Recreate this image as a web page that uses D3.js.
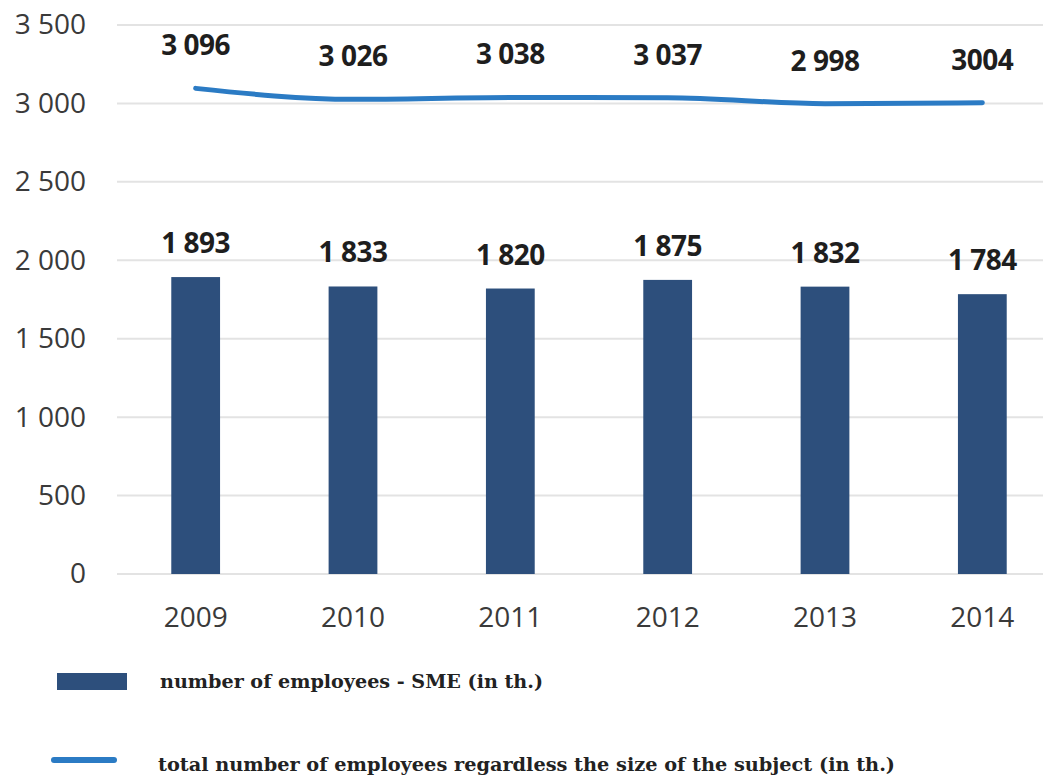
<!DOCTYPE html>
<html><head><meta charset="utf-8">
<script src="https://cdn.jsdelivr.net/npm/d3@7"></script>
<style>body{margin:0;background:#fff}svg{display:block}</style>
</head><body>
<script>
const years = ["2009","2010","2011","2012","2013","2014"];
const smeValues = [1893,1833,1820,1875,1832,1784];
const smeLabels = ["1 893","1 833","1 820","1 875","1 832","1 784"];
const totalValues = [3096,3026,3038,3037,2998,3004];
const totalLabels = ["3 096","3 026","3 038","3 037","2 998","3004"];
const yTicks = [0,500,1000,1500,2000,2500,3000,3500];
const yTickLabels = ["0","500","1 000","1 500","2 000","2 500","3 000","3 500"];
const legendLabels = ["number of employees - SME (in th.)","total number of employees regardless the size of the subject (in th.)"];

const W=1043,H=776;
const svg=d3.select("body").append("svg").attr("width",W).attr("height",H);
const x=d3.scaleBand().domain(years).range([117,1061]).paddingInner(0.69).paddingOuter(0.345);
const y=d3.scaleLinear().domain([0,3500]).range([574,25]);
const barColor="#2d4f7c", lineColor="#2b7bc4";

// grid
svg.append("g").selectAll("line").data(yTicks).join("line")
 .attr("x1",117).attr("x2",W).attr("y1",d=>y(d)).attr("y2",d=>y(d))
 .attr("stroke","#e3e3e3").attr("stroke-width",2);

// y axis
const ya=svg.append("g").attr("transform","translate(86,0)")
 .call(d3.axisLeft(y).tickValues(yTicks).tickFormat((d,i)=>yTickLabels[i]).tickSize(0).tickPadding(0));
ya.select(".domain").remove();
ya.selectAll("text").attr("font-family","Open Sans").attr("font-size",28).attr("fill","#3a3a3a");

// x axis
const xa=svg.append("g").attr("transform","translate(0,574)")
 .call(d3.axisBottom(x).tickSize(0).tickPadding(0));
xa.select(".domain").remove();
xa.selectAll("text").attr("dy",null).attr("y",53).attr("font-family","Open Sans").attr("font-size",28).attr("fill","#3a3a3a");

// bars
svg.append("g").selectAll("rect").data(years).join("rect")
 .attr("x",d=>x(d)).attr("width",x.bandwidth())
 .attr("y",(d,i)=>y(smeValues[i])).attr("height",(d,i)=>y(0)-y(smeValues[i]))
 .attr("fill",barColor);

// line
const cx=d=>x(d)+x.bandwidth()/2;
svg.append("path").datum(years)
 .attr("d",d3.line().x(d=>cx(d)).y((d,i)=>y(totalValues[i])).curve(d3.curveMonotoneX))
 .attr("fill","none").attr("stroke",lineColor).attr("stroke-width",5).attr("stroke-linecap","round");

// labels
svg.append("g").selectAll("text").data(years).join("text")
 .attr("x",d=>cx(d)).attr("y",(d,i)=>y(smeValues[i])-24)
 .attr("text-anchor","middle").attr("font-family","Open Sans").attr("font-weight","bold")
 .attr("font-size",28).attr("letter-spacing",-0.5).attr("fill","#1e1e1e").text((d,i)=>smeLabels[i]);
svg.append("g").selectAll("text").data(years).join("text")
 .attr("x",d=>cx(d)).attr("y",(d,i)=>y(totalValues[i])-33)
 .attr("text-anchor","middle").attr("font-family","Open Sans").attr("font-weight","bold")
 .attr("font-size",28).attr("letter-spacing",-0.5).attr("fill","#1e1e1e").text((d,i)=>totalLabels[i]);

// legend
svg.append("rect").attr("x",57).attr("y",673).attr("width",70).attr("height",17).attr("fill",barColor);
svg.append("line").attr("x1",54).attr("x2",114).attr("y1",760).attr("y2",760)
 .attr("stroke",lineColor).attr("stroke-width",6).attr("stroke-linecap","round");
svg.append("g").selectAll("text").data(legendLabels).join("text")
 .attr("x",(d,i)=>i===0?160:158).attr("y",(d,i)=>i===0?688:771)
 .attr("font-family","DejaVu Serif").attr("font-weight","bold").attr("font-size",19)
 .attr("textLength",(d,i)=>i===0?383:737).attr("lengthAdjust","spacingAndGlyphs")
 .attr("fill","#222").text(d=>d);
</script>
</body></html>
